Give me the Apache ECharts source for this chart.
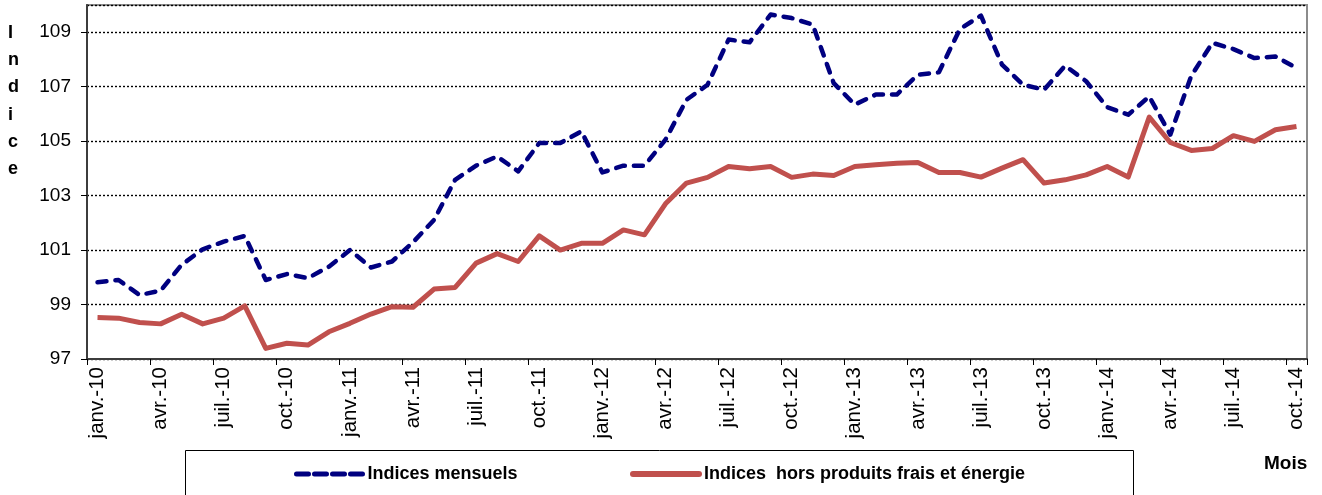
<!DOCTYPE html>
<html>
<head>
<meta charset="utf-8">
<script src="https://cdn.jsdelivr.net/npm/echarts@6/dist/echarts.min.js"></script>
<style>
  html, body { margin: 0; padding: 0; background: #fff; }
  #chart { width: 1322px; height: 495px; }
</style>
</head>
<body>
<div id="chart"></div>
<script>
var monthNames = ['janv.', 'févr.', 'mars', 'avr.', 'mai', 'juin', 'juil.', 'août', 'sept.', 'oct.', 'nov.', 'déc.'];
var years = ['10', '11', '12', '13', '14'];
var lastMonthCount = 10; // jusqu'à oct.-14

var months = [];
years.forEach(function (y, yi) {
    var n = yi === years.length - 1 ? lastMonthCount : 12;
    for (var m = 0; m < n; m++) {
        months.push(monthNames[m] + '-' + y);
    }
});

var indicesMensuels = [
    99.82, 99.90, 99.35, 99.51, 100.46, 101.03, 101.31, 101.52, 99.90, 100.12, 99.97, 100.39,
    101.00, 100.36, 100.58, 101.29, 102.11, 103.58, 104.10, 104.44, 103.89, 104.93, 104.93, 105.36,
    103.85, 104.10, 104.10, 105.05, 106.52, 107.07, 108.73, 108.63, 109.65, 109.52, 109.28, 107.13,
    106.34, 106.71, 106.71, 107.44, 107.53, 109.12, 109.61, 107.81, 107.07, 106.89, 107.77, 107.20,
    106.25, 105.97, 106.64, 105.24, 107.40, 108.61, 108.38, 108.05, 108.11, 107.69
];

var indicesHorsFrais = [
    98.52, 98.50, 98.34, 98.29, 98.64, 98.29, 98.50, 98.95, 97.39, 97.58, 97.51, 98.00,
    98.31, 98.65, 98.92, 98.90, 99.57, 99.63, 100.52, 100.87, 100.58, 101.52, 101.00, 101.25,
    101.25, 101.74, 101.56, 102.70, 103.46, 103.67, 104.07, 103.99, 104.07, 103.67, 103.79, 103.74,
    104.07, 104.13, 104.19, 104.22, 103.85, 103.85, 103.68, 104.01, 104.32, 103.46, 103.58, 103.76,
    104.07, 103.68, 105.88, 104.95, 104.66, 104.73, 105.20, 104.99, 105.42, 105.54
];

var yMin = 97, yMax = 110, yStep = 2;

var chart = echarts.init(document.getElementById('chart'));

var font = 'Liberation Sans, Arial, sans-serif';

option = {
    animation: false,
    textStyle: { fontFamily: font },
    grid: {
        left: 87,
        right: 15,
        top: 5,
        bottom: 136,
        show: true,
        borderColor: '#8c8c8c',
        borderWidth: 2,
        outerBoundsMode: 'none'
    },
    legend: [
        {
            data: ['Indices mensuels'],
            left: 289,
            top: 460,
            itemWidth: 66,
            itemHeight: 14,
            itemGap: 6,
            itemStyle: { opacity: 0 },
            lineStyle: { width: 5, type: [12, 6], cap: 'round', color: '#000080' },
            textStyle: { fontFamily: font, fontWeight: 'bold', fontSize: 18, color: '#000' }
        },
        {
            data: ['Indices  hors produits frais et énergie'],
            left: 625,
            top: 460,
            itemWidth: 66,
            itemHeight: 14,
            itemGap: 6,
            itemStyle: { opacity: 0 },
            lineStyle: { width: 6, cap: 'round', color: '#c0504d' },
            textStyle: { fontFamily: font, fontWeight: 'bold', fontSize: 18, color: '#000' }
        }
    ],
    xAxis: {
        type: 'category',
        data: months,
        boundaryGap: true,
        axisLine: { lineStyle: { color: '#3c3c3c', width: 2 } },
        axisTick: { show: true, interval: 2, length: 6, lineStyle: { color: '#000' } },
        axisLabel: {
            interval: 2,
            rotate: 90,
            margin: 8,
            fontSize: 20.5,
            color: '#000',
            fontFamily: font
        },
        splitLine: { show: false }
    },
    yAxis: {
        type: 'value',
        min: yMin,
        max: yMax,
        interval: yStep,
        axisLine: { show: true, lineStyle: { color: '#3c3c3c', width: 2 } },
        axisTick: { show: true, length: 6, lineStyle: { color: '#000' } },
        axisLabel: {
            margin: 16,
            fontSize: 19,
            color: '#000',
            fontFamily: font,
            showMaxLabel: false
        },
        splitLine: { show: true, lineStyle: { color: '#000', type: [2, 2], width: 1.4 } }
    },
    graphic: [
        {
            type: 'text',
            left: 8,
            top: 19,
            style: {
                text: 'I\nn\nd\ni\nc\ne',
                fontFamily: font,
                fontWeight: 'bold',
                fontSize: 18,
                lineHeight: 27.3,
                fill: '#000',
                align: 'center'
            }
        },
        {
            type: 'text',
            left: 1264,
            top: 454,
            style: {
                text: 'Mois',
                fontFamily: font,
                fontWeight: 'bold',
                fontSize: 19,
                fill: '#000'
            }
        },
        {
            type: 'rect',
            left: 183,
            top: 448,
            shape: { width: 948, height: 60 },
            style: { fill: 'none', stroke: '#000', lineWidth: 1 },
            z: -1
        }
    ],
    series: [
        {
            name: 'Indices mensuels',
            type: 'line',
            data: indicesMensuels,
            symbol: 'none',
            lineStyle: { color: '#000080', width: 4.5, type: [9, 9], cap: 'round', join: 'round' },
            itemStyle: { color: '#000080' },
            z: 3
        },
        {
            name: 'Indices  hors produits frais et énergie',
            type: 'line',
            data: indicesHorsFrais,
            symbol: 'none',
            lineStyle: { color: '#c0504d', width: 5, join: 'round' },
            itemStyle: { color: '#c0504d' },
            z: 2
        }
    ]
};

chart.setOption(option);
</script>
</body>
</html>
